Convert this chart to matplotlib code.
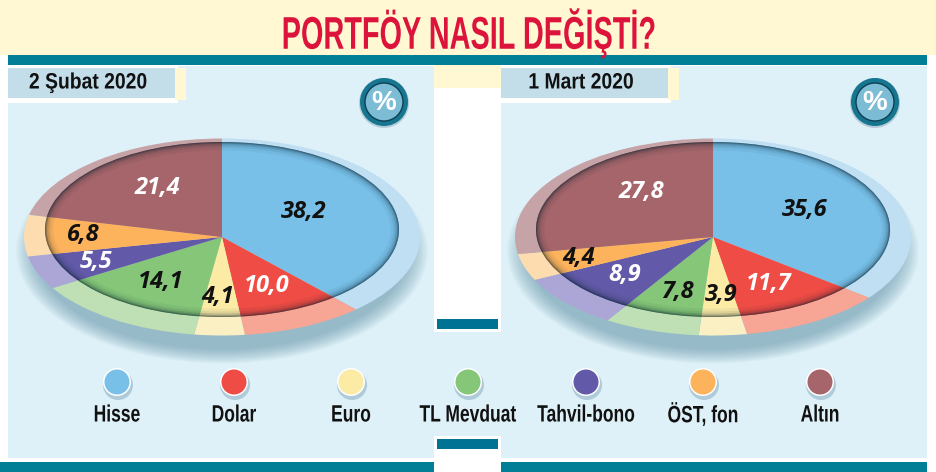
import matplotlib
matplotlib.use("Agg")
import matplotlib.pyplot as plt
from matplotlib.patches import Ellipse, Rectangle, Circle
from matplotlib.patheffects import AbstractPathEffect
from matplotlib.transforms import Affine2D, Bbox

W, H = 937, 472
title = "PORTFÖY NASIL DEĞİŞTİ?"
categories = ["Hisse", "Dolar", "Euro", "TL Mevduat", "Tahvil-bono", "ÖST, fon", "Altın"]
dates = ["2 Şubat 2020", "1 Mart 2020"]
values_feb = [38.2, 10.0, 4.1, 14.1, 5.5, 6.8, 21.4]
values_mar = [35.6, 11.7, 3.9, 7.8, 8.9, 4.4, 27.8]
colors = ["#78C0E8", "#EF4C45", "#FBEBA5", "#85C678", "#625AA8", "#FDB25C", "#A5656A"]
rim_colors = ["#C0DFF2", "#F7A594", "#FBF0C4", "#BFE0B5", "#ABA6D6", "#FDDCB0", "#C6A3A7"]
text_colors_feb = ["#111", "#fff", "#111", "#111", "#fff", "#111", "#fff"]
text_colors_mar = ["#111", "#fff", "#111", "#111", "#fff", "#111", "#fff"]
label_px_feb = [(304, 212), (267, 286), (218, 297), (161, 282), (96, 262), (83, 235), (157, 188)]
label_px_mar = [(805, 210), (769, 284), (721, 295), (677, 292), (625, 275), (579, 258), (641, 192)]
legend_x = [117, 234, 351, 468, 586, 703, 820]

SANS = "Liberation Sans"
TEAL = "#007F96"
PANEL = "#DFF1F8"
CREAM = "#FFF8D2"


class Squeeze(AbstractPathEffect):
    """Draws glyphs condensed horizontally around the text's left origin."""
    def __init__(self, sx):
        super().__init__()
        self.sx = sx

    def draw_path(self, renderer, gc, tpath, affine, rgbFace=None):
        renderer.draw_path(gc, tpath, Affine2D().scale(self.sx, 1) + affine, rgbFace)


fig = plt.figure(figsize=(W / 100, H / 100), dpi=100, facecolor="white")
bg = fig.add_axes([0, 0, 1, 1], zorder=0)
bg.set_xlim(0, W); bg.set_ylim(H, 0); bg.axis("off")
top = fig.add_axes([0, 0, 1, 1], zorder=5)
top.set_xlim(0, W); top.set_ylim(H, 0); top.axis("off"); top.patch.set_alpha(0)
renderer = fig.canvas.get_renderer()


def narrow_text(cx, y, s, sx, **kw):
    t = top.text(cx, y, s, ha="left", va="center", family=SANS, fontweight="bold", **kw)
    w = t.get_window_extent(renderer).width
    t.set_x(cx - w * sx / 2)
    t.set_path_effects([Squeeze(sx)])
    full_extent = t.get_window_extent

    def drawn_extent(renderer=None, dpi=None):
        b = full_extent(renderer, dpi)
        return Bbox.from_extents(b.x0, b.y0, b.x0 + b.width * sx, b.y1)

    t.get_window_extent = drawn_extent
    return t


def rect(ax, x0, y0, x1, y1, c, z=1):
    ax.add_patch(Rectangle((x0, y0), x1 - x0, y1 - y0, fc=c, ec="none", zorder=z))


# frame
rect(bg, 0, 0, W, 55, CREAM)
rect(bg, 434, 65, 501, 88, CREAM)
rect(bg, 8, 66, 434, 458, PANEL)
rect(bg, 501, 66, 927, 458, PANEL)
rect(bg, 434, 332, 501, 436, PANEL)
rect(bg, 8, 55, 927, 65, TEAL, 2)
rect(bg, 437, 319, 498, 329, "#007394", 2)
rect(bg, 437, 439, 498, 449, "#007394", 2)
rect(bg, 0, 462, 434, 472, TEAL, 2)
rect(bg, 501, 462, 927, 472, TEAL, 2)
narrow_text(469, 33, title, 0.63, color="#DC143C", fontsize=33)


def pie_panel(cx, values, label_px, text_colors, date, box_x):
    apex_y = 237
    rx, ry = 198.0, 98.5
    # soft drop shadow under the plate
    for i in range(14):
        k = i / 13
        bg.add_patch(Ellipse((cx, apex_y + 14), 2 * (rx + 8 - 20 * k), 2 * (ry + 14 - 14 * k),
                             fc="#5F8FA8", ec="none", alpha=0.05, zorder=3))
    ax = fig.add_axes([(cx - rx) / W, 1 - (apex_y + ry) / H, 2 * rx / W, 2 * ry / H], zorder=2)
    ax.pie(values, colors=rim_colors, startangle=90, counterclock=False, radius=1,
           wedgeprops=dict(linewidth=0))
    # inner plate: the same slices clipped to an ellipse sitting above the apex
    plate_xy = (0, 7.5 / ry)
    plate_w, plate_h = 2 * 177 / rx, 2 * 87.5 / ry
    clip = Ellipse(plate_xy, plate_w, plate_h, fc="none", ec="none")
    ax.add_patch(clip)
    wedges, _ = ax.pie(values, colors=colors, startangle=90, counterclock=False, radius=1.4,
                       wedgeprops=dict(linewidth=0))
    for w in wedges:
        w.set_clip_on(True)
        w.set_clip_path(clip)
    ax.set_aspect("auto")
    ax.set_xlim(-1, 1); ax.set_ylim(-1, 1)
    # rim shading inside the plate
    for lw, a in [(12, 0.05), (8, 0.08), (5, 0.14), (2.5, 0.25), (1, 0.3)]:
        e = Ellipse(plate_xy, plate_w, plate_h, fc="none", ec="#06202E", lw=lw, alpha=a)
        ax.add_patch(e)
        e.set_clip_path(clip)
    for v, (x, y), c in zip(values, label_px, text_colors):
        top.text(x, y, f"{v:.1f}".replace(".", ","), ha="center", va="center", color=c,
                 fontsize=17, fontstyle="italic", fontweight="bold", family="Open Sans")
    # date box
    rect(bg, box_x, 66, box_x + 170, 103, "white", 2)
    rect(bg, box_x + 167, 68, box_x + 178, 100, CREAM, 2)
    rect(bg, box_x, 68, box_x + 167, 98, "#C3DDE9", 3)
    narrow_text(box_x + 80, 83, date, 0.87, color="#111", fontsize=16)
    # percent badge
    bx = cx + 162
    top.add_patch(Circle((bx, 103), 25, fc="#B5CDD8", ec="none"))
    top.add_patch(Circle((bx, 102), 24, fc="#17768F", ec="none"))
    top.add_patch(Circle((bx, 102), 19, fc="#7DBCD5", ec="#0D3F55", lw=1))
    top.text(bx, 103, "%", ha="center", va="center", color="white", fontsize=20,
             fontweight="bold", family=SANS)


pie_panel(222, values_feb, label_px_feb, text_colors_feb, dates[0], 8)
pie_panel(713, values_mar, label_px_mar, text_colors_mar, dates[1], 501)

# legend
for x, c, name in zip(legend_x, colors, categories):
    bg.add_patch(Circle((x + 1, 385), 15, fc="#8FB2C6", ec="none", alpha=0.6, zorder=3))
    bg.add_patch(Circle((x, 382), 14, fc="white", ec="none", zorder=4))
    bg.add_patch(Circle((x, 382), 12.5, fc=c, ec="none", zorder=5))
    narrow_text(x, 415, name, 0.74, color="#111", fontsize=17)

fig.savefig("out.png", dpi=100, facecolor="white")
